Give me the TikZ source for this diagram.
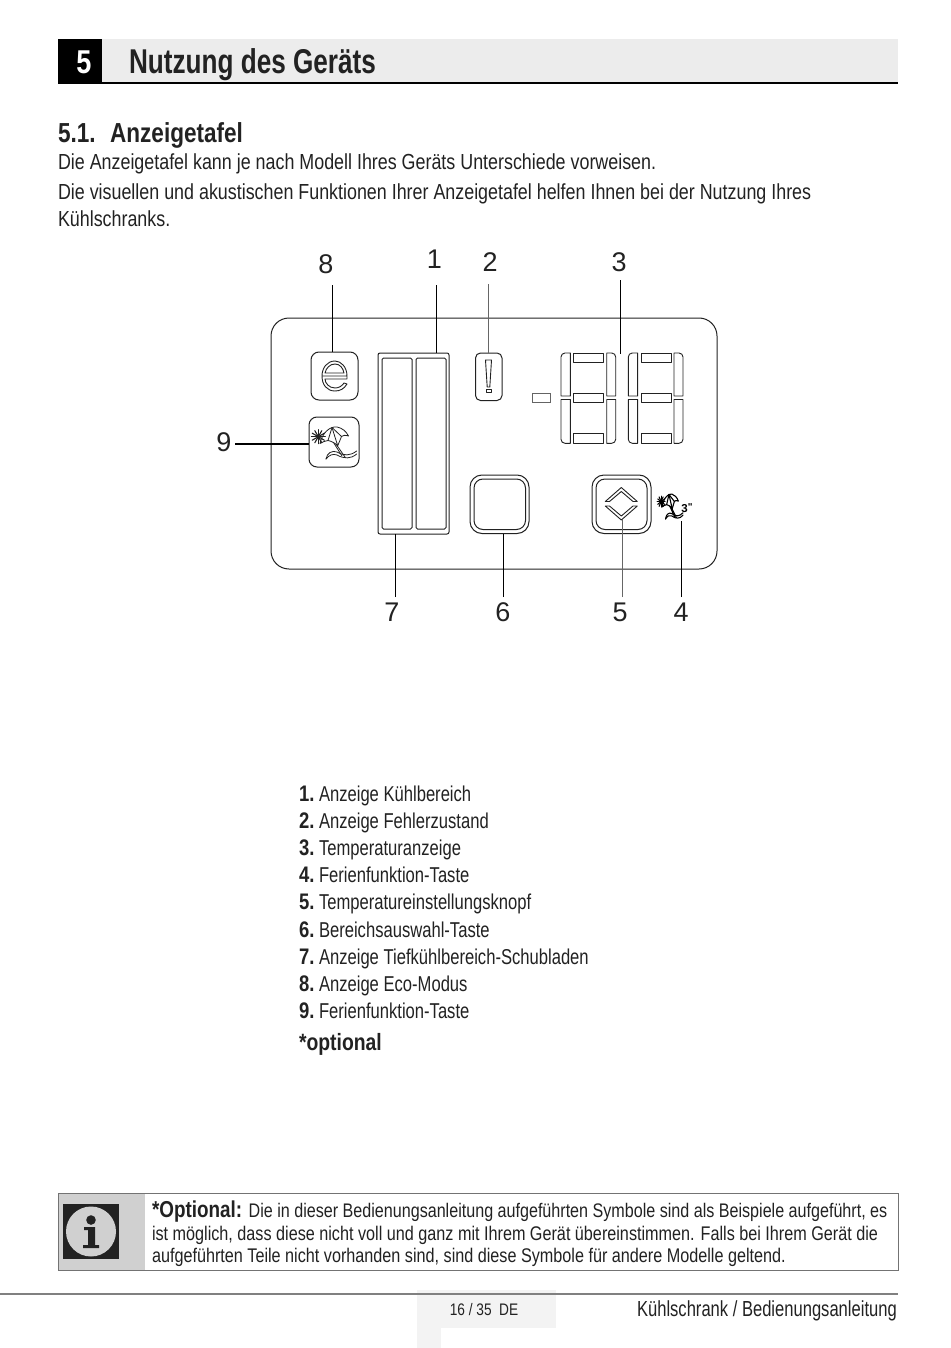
\documentclass[tikz,border=0pt]{standalone}
\usepackage{fontspec}
\setmainfont{Liberation Sans}
\newfontfamily\nf[FakeStretch=0.82]{Liberation Sans}
\newfontfamily\nfn[FakeStretch=0.772]{Liberation Sans}
\newfontfamily\nff[FakeStretch=0.76]{Liberation Sans}
\newfontfamily\bfc[FakeStretch=0.82]{Liberation Sans Bold}
\newfontfamily\bfn[FakeStretch=0.76]{Liberation Sans Bold}
\definecolor{ink}{HTML}{222222}
\definecolor{hdr}{HTML}{ECECEC}
\definecolor{side}{HTML}{D0D0D0}
\definecolor{foot}{HTML}{F3F3F3}
\tikzset{
  txt/.style={anchor=base west,inner sep=0pt,outer sep=0pt,text=ink,font=\nf\fontsize{21.8}{21.8}\selectfont},
  listnum/.style={txt,font=\bfc\fontsize{22.5}{22.5}\selectfont},
  listtxt/.style={txt,font=\nfn\fontsize{21.5}{21.5}\selectfont},
  infotxt/.style={txt,font=\nf\fontsize{19.75}{19.75}\selectfont},
  callout/.style={inner sep=0pt,outer sep=0pt,text=ink,font=\fontsize{27}{27}\selectfont},
  shapebox/.style={draw=ink,line width=1pt,fill=white,inner sep=0pt,outer sep=0pt,rounded corners=8pt},
  leader/.style={draw=black,line width=.9pt},
  leadergray/.style={draw=black!60,line width=.9pt},
  seg/.style={draw=ink,line width=.9pt,line join=round},
  iconline/.style={draw=ink,line width=.8pt,line join=round,line cap=round}
}
\newcommand{\pbox}[6]{\pgfmathsetmacro\cxx{(#3+#5)/2}\pgfmathsetmacro\cyy{(#4+#6)/2}%
  \node[#1,minimum width={(#5-#3)*1pt},minimum height={(#6-#4)*1pt}] (#2) at (\cxx,\cyy) {};}
\newcommand{\beachicon}{%
  % star
  \foreach \a in {0,30,...,330}{\draw[iconline,line width=1.1pt] (318.3,436.7) -- ++(\a:7pt);}
  % canopy
  \draw[iconline] (320,443.5) .. controls (322,433) and (330,426) .. (337,427) .. controls (342,428) and (346,431) .. (348.5,436)
     .. controls (345,435) and (343,435) .. (341.5,436.5) .. controls (340,440) and (339,443) .. (337.7,445.7)
     .. controls (335,443) and (331,441) .. (328,440.5) .. controls (325,441) and (322,442) .. (320,443.5) -- cycle;
  \draw[iconline] (328,440.5) -- (332,427.5) -- (337.7,445.7);
  \draw[iconline] (332,427.5) -- (341.5,436.5);
  % pole
  \draw[iconline] (336,444) -- (345,457);
  \draw[iconline] (333.5,442.5) -- (342,456);
  % wave
  \draw[iconline] (326,459) .. controls (327,453) and (332,450) .. (337,452) .. controls (344,456) and (350,456) .. (356.7,451);
  \draw[iconline] (326,459) .. controls (329,455) and (333,453.5) .. (337,455) .. controls (344,459) and (351,459) .. (356.7,454);
}
\begin{document}
\begin{tikzpicture}[x=1pt,y=-1pt]
\useasboundingbox (0,0) rectangle (950,1348);
\fill[white] (0,0) rectangle (950,1348);
% header
\fill[hdr] (58,39) rectangle (898,83);
\fill[black] (58,39) rectangle (102,83);
\draw[black,line width=2.4pt] (58,83) -- (898,83);
\node[anchor=base,inner sep=0pt,text=white,font=\bfc\fontsize{33}{33}\selectfont] (hnum) at (84,73.5) {5};
\node[txt,font=\bfn\fontsize{34.4}{34.4}\selectfont] (htitle) at (129,74) {Nutzung des Geräts};
\node[txt,font=\bfc\fontsize{27.5}{27.5}\selectfont] (sect) at (58,143) {5.1.\ \ \hspace{2pt}Anzeigetafel};
\node[txt] (p1) at (58,170) {Die Anzeigetafel kann je nach Modell Ihres Geräts Unterschiede vorweisen.};
\node[txt] (p2) at (58,200) {Die visuellen und akustischen Funktionen Ihrer Anzeigetafel helfen Ihnen bei der Nutzung Ihres};
\node[txt] (p3) at (58,227) {Kühlschranks.};
% panel
\pbox{draw=ink,line width=1pt,rounded corners=18pt,inner sep=0pt,outer sep=0pt}{panel}{271}{318}{717}{569}
% buttons
\pbox{shapebox}{ebtn}{311}{352}{358}{400}
\pbox{shapebox}{bbtn}{309}{417}{359}{467}
\pbox{shapebox,rounded corners=5pt}{xbtn}{475.5}{353}{502}{400.5}
\pbox{shapebox,rounded corners=2pt}{barout}{378}{353}{449}{534}
\pbox{shapebox,rounded corners=1.5pt}{barl}{382}{358}{412}{529}
\pbox{shapebox,rounded corners=1.5pt}{barr}{416}{358}{446}{529}
\pbox{shapebox,rounded corners=12pt}{selout}{470}{475}{529}{533.5}
\pbox{shapebox,rounded corners=9pt}{selin}{474}{479}{525.5}{529.5}
\pbox{shapebox,rounded corners=12pt}{setout}{592}{475}{651}{533.5}
\pbox{shapebox,rounded corners=9pt}{setin}{596}{479}{647}{529.5}
\pbox{shapebox,rounded corners=0pt,line width=.9pt,draw=ink!70}{minus}{532.5}{393}{550}{402.5}
% e glyph
\draw[iconline,line width=.9pt] (323,376) -- (347,376) .. controls (347,367) and (341,361) .. (335,361) .. controls (327,361) and (322,368) .. (322,376)
  .. controls (322,385) and (327,391) .. (335,391) .. controls (340,391) and (344,389) .. (347,384)
  -- (344,383) .. controls (342,386) and (339,388) .. (335,388) .. controls (329,388) and (325,383) .. (325,379) -- (347,379) -- (347,376);
\draw[iconline,line width=.9pt] (325,373) -- (344,373) .. controls (343,368) and (340,364) .. (335,364) .. controls (330,364) and (326,368) .. (325,373) -- cycle;
% exclamation
\draw[iconline,line width=.9pt] (485.5,360) -- (491.5,360) -- (489.8,387) -- (487.2,387) -- cycle;
\draw[iconline,line width=.9pt] (486,389.5) rectangle (491,392.5);
% seven segment digits
\foreach \dx/\nm in {0/a,67.3/b}{
\begin{scope}[shift={(\dx,0)}]
  \draw[seg] (570.3,353) -- (565,353) [rounded corners=4pt] -- (561,353) [sharp corners] -- (561,396) -- (570.3,396) -- cycle;
  \draw[seg] (570.3,399.5) -- (561,399.5) [rounded corners=4pt] -- (561,443.3) [sharp corners] -- (570.3,443.3) -- cycle;
  \draw[seg] (606.7,353) [rounded corners=4pt] -- (615.7,353) [sharp corners] -- (615.7,396) -- (606.7,396) -- cycle;
  \draw[seg] (606.7,399.5) -- (615.7,399.5) [rounded corners=4pt] -- (615.7,443.3) [sharp corners] -- (606.7,443.3) -- cycle;
  \draw[seg] (573.7,353) rectangle (603.7,362);
  \draw[seg] (573.7,393) rectangle (603.7,402.3);
  \draw[seg] (573.7,433.5) rectangle (603.7,443.3);
\end{scope}}
% chevrons
\draw[iconline,line width=.9pt] (605.3,501.5) -- (621.3,487.5) -- (637.3,501.5) -- (633,501.5) -- (621.3,491.5) -- (609.5,501.5) -- cycle;
\draw[iconline,line width=.9pt] (605.3,506) -- (621.3,520) -- (637.3,506) -- (633,506) -- (621.3,516) -- (609.5,506) -- cycle;
% beach icons
\beachicon
\begin{scope}[shift={(479.7,161)},xscale=.57,yscale=.78,iconline/.append style={line width=1.1pt,draw=black}]
  \beachicon
\end{scope}
\node[inner sep=0pt,text=black,font=\fontspec{Liberation Sans Bold}\fontsize{11.5}{11.5}\selectfont] (three) at (687,508) {3\raisebox{2.5pt}{\fontsize{10}{10}\selectfont"}};
% callout labels
\node[callout] (n8) at (326,264) {8};
\node[callout] (n1) at (434.5,259) {1};
\node[callout] (n2) at (490,262) {2};
\node[callout] (n3) at (619,262) {3};
\node[callout] (n9) at (224,442) {9};
\node[callout] (n7) at (392,612) {7};
\node[callout] (n6) at (503,612) {6};
\node[callout] (n5) at (620,612) {5};
\node[callout] (n4) at (681,612) {4};
\coordinate (c8) at (332,285);
\coordinate (c1) at (436.5,285);
\coordinate (c2) at (488,284);
\coordinate (c3) at (620,280);
\coordinate (c3b) at (620,354);
\coordinate (c9) at (235,444);
\coordinate (c7) at (395,597);
\coordinate (c6) at (503,597);
\coordinate (c5) at (622,597);
\coordinate (c4) at (681,597);
\coordinate (c4b) at (681,521);
\coordinate (c5b) at (622,520);
\draw[leader] (c8) -- (c8 |- ebtn.north);
\draw[leader] (c1) -- (c1 |- barout.north);
\draw[leadergray] (c2) -- (c2 |- xbtn.north);
\draw[leader] (c3) -- (c3b);
\draw[leader,line width=1.5pt] (c9) -- (c9 -| bbtn.west);
\draw[leader] (c7) -- (c7 |- barout.south);
\draw[leader] (c6) -- (c6 |- selout.south);
\draw[leadergray] (c5) -- (c5b);
\draw[leader] (c4) -- (c4b);
% list
\foreach \i/\t [count=\k from 0] in {1/Anzeige Kühlbereich,2/Anzeige Fehlerzustand,3/Temperaturanzeige,4/Ferienfunktion-Taste,5/Temperatureinstellungsknopf,6/Bereichsauswahl-Taste,7/Anzeige Tiefkühlbereich-Schubladen,8/Anzeige Eco-Modus,9/Ferienfunktion-Taste}{
  \pgfmathsetmacro\yy{801+27.2*\k}
  \node[listnum] (ln\i) at (299,\yy) {\i.};
  \node[listtxt] (lt\i) at (319,\yy) {\t};
}
\node[listnum,font=\bfc\fontsize{23.6}{23.6}\selectfont] (opt) at (299,1050) {*optional};
% info box
\fill[white] (58,1193) rectangle (898,1270.5);
\fill[side] (58,1193) rectangle (145,1270.5);
\draw[black!55,line width=.9pt] (58,1193) rectangle (898,1270.5);
\fill[ink] (63,1203.7) rectangle (119,1259);
\fill[side] (91,1231.5) circle (25pt);
\fill[ink] (91,1220) circle (4.8pt);
\fill[ink] (84,1227) -- (95,1227) -- (95,1245) -- (99,1245) -- (99,1248) -- (83,1248) -- (83,1245) -- (88,1245) -- (88,1230) -- (84,1230) -- cycle;
\node[txt] (i1) at (152,1217) {{\bfc\fontsize{23}{23}\selectfont *Optional:} {\fontsize{19.65}{19.65}\selectfont Die in dieser Bedienungsanleitung aufgeführten Symbole sind als Beispiele aufgeführt, es}};
\node[infotxt] (i2) at (152,1240) {ist möglich, dass diese nicht voll und ganz mit Ihrem Gerät übereinstimmen. Falls bei Ihrem Gerät die};
\node[infotxt] (i3) at (152,1262) {aufgeführten Teile nicht vorhanden sind, sind diese Symbole für andere Modelle geltend.};
% footer
\fill[foot] (417,1290) rectangle (556,1328);
\fill[foot] (417,1328) rectangle (441,1348);
\draw[black!50,line width=1.1pt] (0,1294) -- (898,1294);
\node[anchor=base,inner sep=0pt,text=ink,font=\nf\fontsize{16.7}{16.7}\selectfont] (pg) at (484,1315) {16 / 35\ \ DE};
\node[anchor=base east,inner sep=0pt,text=ink,font=\nff\fontsize{21.8}{21.8}\selectfont] (ft) at (897,1316) {Kühlschrank / Bedienungsanleitung};
\end{tikzpicture}
\end{document}
